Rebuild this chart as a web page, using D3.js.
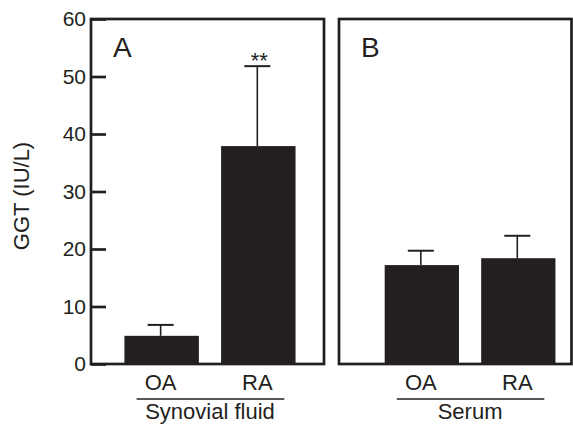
<!DOCTYPE html>
<html>
<head>
<meta charset="utf-8">
<script src="https://cdn.jsdelivr.net/npm/d3@7"></script>
<style>
  body { margin: 0; background: #fff; }
  svg text { font-family: "Liberation Sans", Arial, sans-serif; fill: #231f20; }
</style>
</head>
<body>
<div id="chart"></div>
<script>
// data
var categories = ["OA", "RA"];
var groupNames = ["Synovial fluid", "Serum"];
var panelLetters = ["A", "B"];
var synovialMean = [4.9, 37.9];
var synovialSD = [1.9, 13.9];
var serumMean = [17.2, 18.4];
var serumSD = [2.5, 3.9];
var yTicks = [0, 10, 20, 30, 40, 50, 60];
var signif = ["", "**"];

var width = 573, height = 425;
var ink = "#231f20";

var svg = d3.select("#chart")
    .append("svg")
    .attr("width", width)
    .attr("height", height);

var y = d3.scaleLinear()
    .domain([0, 60])
    .range([364, 19]);

// one panel per group
var panels = [
  { name: groupNames[0], letter: panelLetters[0], mean: synovialMean, sd: synovialSD, left: 91, right: 324, align: 0.54 },
  { name: groupNames[1], letter: panelLetters[1], mean: serumMean, sd: serumSD, left: 339, right: 571.5, align: 0.74 }
];

panels.forEach(function(p, pi) {
  var x = d3.scaleBand()
      .domain(categories)
      .range([p.left, p.right])
      .paddingInner(0.23)
      .paddingOuter(0.32)
      .align(p.align);

  var g = svg.append("g");

  var rows = categories.map(function(c, i) {
    return { cat: c, mean: p.mean[i], top: p.mean[i] + p.sd[i], star: pi === 0 ? signif[i] : "" };
  });

  // ---- BARS ---- //
  g.selectAll(".bar")
      .data(rows)
      .enter().append("rect")
      .attr("class", "bar")
      .attr("x", function(d) { return x(d.cat); })
      .attr("y", function(d) { return y(d.mean); })
      .attr("width", x.bandwidth())
      .attr("height", function(d) { return y(0) - y(d.mean); })
      .attr("fill", ink);

  // ---- ERROR BARS (upper only) ---- //
  var cx = function(d) { return x(d.cat) + x.bandwidth() / 2 - 1; };
  g.selectAll(".err")
      .data(rows)
      .enter().append("line")
      .attr("x1", cx).attr("x2", cx)
      .attr("y1", function(d) { return y(d.mean); })
      .attr("y2", function(d) { return y(d.top); })
      .attr("stroke", ink)
      .attr("stroke-width", 1.6);

  g.selectAll(".cap")
      .data(rows)
      .enter().append("line")
      .attr("x1", function(d) { return cx(d) - 13; })
      .attr("x2", function(d) { return cx(d) + 13; })
      .attr("y1", function(d) { return y(d.top); })
      .attr("y2", function(d) { return y(d.top); })
      .attr("stroke", ink)
      .attr("stroke-width", 2);

  g.selectAll(".star")
      .data(rows.filter(function(d) { return d.star; }))
      .enter().append("text")
      .attr("x", function(d) { return cx(d) + 2; })
      .attr("y", function(d) { return y(d.top) + 2; })
      .attr("text-anchor", "middle")
      .style("font-size", "22px")
      .text(function(d) { return d.star; });

  // ---- FRAME ---- //
  g.append("rect")
      .attr("x", p.left)
      .attr("y", y(60))
      .attr("width", p.right - p.left)
      .attr("height", y(0) - y(60))
      .attr("fill", "none")
      .attr("stroke", ink)
      .attr("stroke-width", 2.7);

  g.append("text")
      .attr("x", p.left + 22)
      .attr("y", 57)
      .style("font-size", "28px")
      .text(p.letter);

  // ---- CATEGORY LABELS ---- //
  g.selectAll(".cat")
      .data(categories)
      .enter().append("text")
      .attr("x", function(d) { return x(d) + x.bandwidth() / 2 - 1; })
      .attr("y", 390)
      .attr("text-anchor", "middle")
      .style("font-size", "22px")
      .text(function(d) { return d; });

  var first = x(categories[0]) + x.bandwidth() / 2;
  var last = x(categories[categories.length - 1]) + x.bandwidth() / 2;
  g.append("line")
      .attr("x1", first - 25).attr("x2", last + 26)
      .attr("y1", 399).attr("y2", 399)
      .attr("stroke", ink)
      .attr("stroke-width", 1.5);

  g.append("text")
      .attr("x", (first + last) / 2)
      .attr("y", 419)
      .attr("text-anchor", "middle")
      .style("font-size", "22px")
      .text(p.name);
});

// ---- Y AXIS ---- //
var yAxis = d3.axisLeft(y)
    .tickValues(yTicks)
    .tickSizeInner(-15)
    .tickSizeOuter(0)
    .tickPadding(5);

var yAxisGroup = svg.append("g")
    .attr("transform", "translate(91,0)")
    .call(yAxis);

yAxisGroup.select(".domain").remove();
yAxisGroup.selectAll(".tick line")
    .attr("stroke", ink)
    .attr("stroke-width", 2.7);
yAxisGroup.selectAll(".tick text")
    .style("font-size", "21px")
    .style("font-family", "'Liberation Sans', Arial, sans-serif")
    .attr("fill", ink);

svg.append("text")
    .attr("transform", "translate(28.5,196) rotate(-90)")
    .attr("text-anchor", "middle")
    .style("font-size", "22px")
    .text("GGT (IU/L)");
</script>
</body>
</html>
